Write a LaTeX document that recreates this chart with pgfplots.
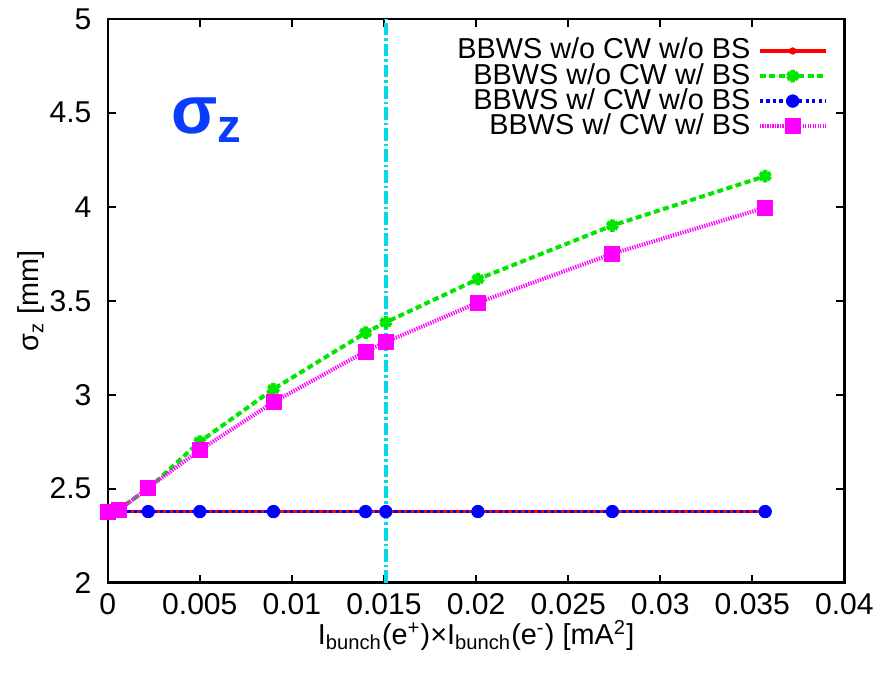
\documentclass[border=0pt]{standalone}
\usepackage{pgfplots}
\pgfplotsset{compat=1.18}
\usepackage{fontspec}
\setmainfont{Liberation Sans}
\usetikzlibrary{plotmarks}
\definecolor{cred}{RGB}{255,0,0}
\definecolor{cgreen}{RGB}{0,230,0}
\definecolor{cblue}{RGB}{0,0,255}
\definecolor{cpink}{RGB}{255,0,255}
\definecolor{ccyan}{RGB}{0,220,230}
\definecolor{lblue}{RGB}{10,60,255}
\begin{document}
\begin{tikzpicture}
\begin{axis}[
  width=294pt, height=225pt, scale only axis,
  xmin=0, xmax=0.04, ymin=2, ymax=5,
  clip=false,
  xtick={0,0.005,0.01,0.015,0.02,0.025,0.03,0.035,0.04},
  ytick={2,2.5,3,3.5,4,4.5,5},
  scaled x ticks=false, scaled y ticks=false,
  /pgf/number format/.cd, fixed, precision=3, assume math mode=true, /pgfplots/.cd,
  tick label style={font=\fontsize{12}{14}\selectfont},
  yticklabel style={xshift=-3pt},
  xticklabel style={yshift=-1pt},
  major tick length=3.2pt,
  tick style={line width=0.7pt, black},
  axis line style={line width=0.9pt},
  xlabel={I\textsubscript{bunch}(e\textsuperscript{+})×I\textsubscript{bunch}(e\textsuperscript{-}) [mA\textsuperscript{2}]},
  ylabel={σ\textsubscript{z} [mm]},
  label style={font=\fontsize{11.5}{13}\selectfont},
  xlabel style={yshift=5pt},
  ylabel style={yshift=-5pt},
  legend style={at={(0.988,0.975)}, anchor=north east, draw=none, fill=none,
    font=\fontsize{11.5}{13}\selectfont, row sep=0pt,
    nodes={inner ysep=0pt, inner xsep=3pt, text height=8.2pt, text depth=1.8pt}},
  legend cell align=right,
  legend plot pos=right,
  legend image code/.code={\draw[mark repeat=2,mark phase=2] plot coordinates {(0cm,0cm) (0.46cm,0cm) (0.92cm,0cm)};},
]
\addplot[ccyan, line width=1.6pt, dash pattern=on 5pt off 1.2pt on 1pt off 1.2pt, forget plot] coordinates {(0.0151,2) (0.0151,5)};

\addplot[cred, line width=1.5pt, mark=*, mark size=1.3pt, mark options={solid, line width=0.3pt}] coordinates {
(0,2.378) (0.0006,2.378) (0.0022,2.378) (0.005,2.378) (0.009,2.378) (0.014,2.378) (0.0151,2.378) (0.0201,2.378) (0.0274,2.378) (0.0357,2.378)};
\addlegendentry{BBWS w/o CW w/o BS}

\addplot[cgreen, line width=1.6pt, dash pattern=on 2.4pt off 1.4pt, mark=asterisk, mark size=2.5pt, mark options={solid, line width=1.8pt}] coordinates {
(0,2.378) (0.0006,2.39) (0.0022,2.50) (0.005,2.75) (0.009,3.03) (0.014,3.33) (0.0151,3.385) (0.0201,3.615) (0.0274,3.90) (0.0357,4.163)};
\addlegendentry{BBWS w/o CW w/ BS}

\addplot[cblue, line width=1.3pt, dash pattern=on 1.3pt off 1.3pt, mark=*, mark size=2.5pt, mark options={solid, line width=0.3pt}] coordinates {
(0,2.378) (0.0006,2.378) (0.0022,2.378) (0.005,2.378) (0.009,2.378) (0.014,2.378) (0.0151,2.378) (0.0201,2.378) (0.0274,2.378) (0.0357,2.378)};
\addlegendentry{BBWS w/ CW w/o BS}

\addplot[cpink, line width=1.6pt, dash pattern=on 0.5pt off 0.5pt, mark=square*, mark size=3pt, mark options={solid, line width=0.3pt}] coordinates {
(0,2.378) (0.0006,2.385) (0.0022,2.505) (0.005,2.705) (0.009,2.96) (0.014,3.23) (0.0151,3.28) (0.0201,3.49) (0.0274,3.75) (0.0357,3.995)};
\addlegendentry{BBWS w/ CW w/ BS}

\node[text=lblue, font=\fontsize{27}{30}\selectfont\bfseries] at (axis cs:0.0054,4.46) {σ\textsubscript{z}};
\path (rel axis cs:0,0.5) ++(-43pt,0);
\end{axis}
\end{tikzpicture}
\end{document}
